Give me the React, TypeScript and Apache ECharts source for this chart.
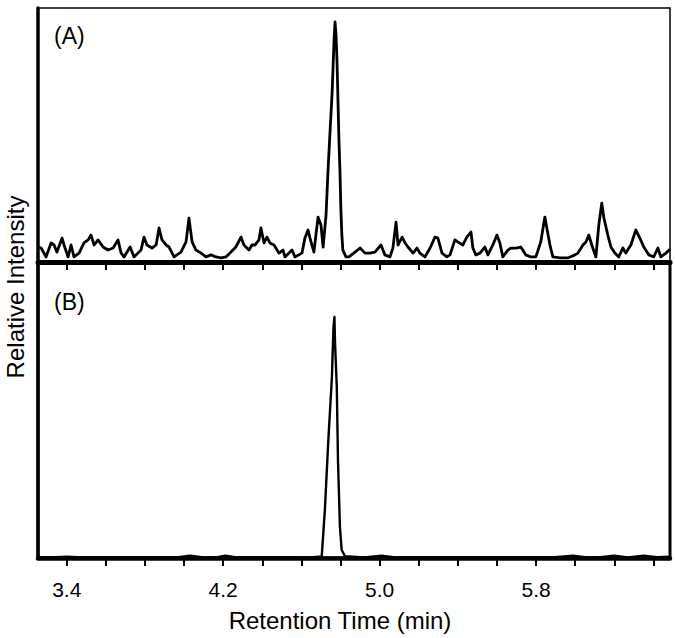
import React, { useEffect, useRef } from "react";
import * as echarts from "echarts";

// Panel (A): retention time (min) and relative intensity (%)
const timesA = [
  3.253, 3.269, 3.294, 3.32, 3.335, 3.35, 3.376, 3.386, 3.407, 3.422, 3.437, 3.463, 3.488, 3.509, 3.524,
  3.54, 3.56, 3.586, 3.611, 3.637, 3.662, 3.678, 3.693, 3.724, 3.744, 3.78, 3.795, 3.81, 3.836, 3.857,
  3.872, 3.887, 3.908, 3.923, 3.949, 3.984, 4.01, 4.025, 4.041, 4.061, 4.087, 4.112, 4.138, 4.163, 4.189,
  4.214, 4.24, 4.265, 4.291, 4.306, 4.332, 4.347, 4.363, 4.383, 4.393, 4.409, 4.424, 4.439, 4.46, 4.485,
  4.506, 4.516, 4.552, 4.567, 4.603, 4.618, 4.634, 4.644, 4.664, 4.685, 4.7, 4.711, 4.726, 4.737, 4.747,
  4.757, 4.762, 4.767, 4.772, 4.777, 4.782, 4.787, 4.792, 4.797, 4.802, 4.807, 4.812, 4.828, 4.843, 4.874,
  4.9, 4.925, 4.951, 4.976, 5.007, 5.027, 5.053, 5.068, 5.084, 5.094, 5.115, 5.13, 5.145, 5.171, 5.191,
  5.206, 5.232, 5.258, 5.283, 5.298, 5.319, 5.344, 5.36, 5.385, 5.4, 5.426, 5.446, 5.467, 5.477, 5.492,
  5.513, 5.538, 5.554, 5.579, 5.6, 5.615, 5.63, 5.656, 5.671, 5.697, 5.722, 5.748, 5.773, 5.799, 5.824,
  5.845, 5.871, 5.886, 5.922, 5.963, 5.999, 6.014, 6.04, 6.055, 6.07, 6.085, 6.106, 6.121, 6.136, 6.147,
  6.167, 6.183, 6.203, 6.223, 6.244, 6.259, 6.285, 6.31, 6.331, 6.351, 6.377, 6.402, 6.423, 6.438, 6.464,
  6.485,
];
const intensityA = [
  6.0, 5.5, 2.0, 7.5, 6.7, 3.9, 9.4, 6.7, 2.0, 6.7, 2.0, 3.5, 7.5, 8.7, 10.6,
  6.7, 8.7, 5.9, 4.7, 5.5, 8.7, 3.5, 2.0, 5.9, 2.0, 4.7, 9.8, 6.7, 5.5, 6.7,
  13.4, 8.7, 6.7, 5.9, 2.0, 3.9, 7.9, 17.3, 7.9, 4.7, 3.5, 2.0, 2.8, 2.0, 1.6,
  2.0, 3.9, 5.9, 9.8, 6.7, 4.7, 6.7, 6.7, 8.7, 13.4, 7.5, 9.8, 7.5, 6.7, 3.5,
  4.7, 2.0, 4.7, 2.0, 3.5, 9.4, 12.6, 9.4, 3.9, 17.7, 14.6, 5.9, 18.5, 37.4, 52.0,
  66.5, 76.8, 87.4, 94.5, 89.4, 79.5, 63.8, 48.0, 36.2, 20.5, 10.6, 4.7, 2.0, 2.0, 3.9,
  5.5, 3.5, 3.5, 3.9, 6.7, 2.8, 2.0, 5.5, 15.7, 6.7, 9.8, 7.5, 5.9, 3.5, 5.5,
  3.5, 2.0, 5.5, 9.8, 9.4, 3.5, 2.0, 2.8, 8.7, 7.9, 6.7, 9.8, 11.8, 5.5, 2.8,
  3.5, 5.9, 2.8, 6.7, 10.6, 7.5, 2.0, 4.7, 5.5, 5.5, 5.9, 2.8, 2.0, 2.0, 7.9,
  17.7, 6.7, 2.0, 1.6, 1.6, 2.8, 3.5, 6.7, 7.9, 10.6, 6.7, 2.0, 14.6, 23.2, 17.3,
  10.6, 5.9, 3.5, 2.0, 5.5, 3.5, 6.7, 12.6, 9.4, 5.9, 2.8, 2.0, 5.5, 2.0, 3.5,
  5.0,
];

// Panel (B): retention time (min) and relative intensity (%)
const timesB = [
  3.253, 3.32, 3.4, 3.48, 3.56, 3.64, 3.72, 3.8, 3.88, 3.96, 4.03, 4.1, 4.17, 4.21, 4.27,
  4.35, 4.43, 4.51, 4.59, 4.66, 4.704, 4.72, 4.737, 4.756, 4.764, 4.769, 4.772, 4.781, 4.787, 4.797,
  4.806, 4.823, 4.92, 5.01, 5.08, 5.16, 5.24, 5.32, 5.4, 5.48, 5.56, 5.64, 5.72, 5.8, 5.88,
  5.99, 6.06, 6.13, 6.2, 6.27, 6.35, 6.42, 6.485,
];
const intensityB = [
  0.3, 0.2, 0.4, 0.2, 0.3, 0.2, 0.3, 0.2, 0.3, 0.2, 0.8, 0.2, 0.3, 0.8, 0.2,
  0.3, 0.2, 0.3, 0.2, 0.3, 0.5, 16.2, 38.9, 61.1, 78.0, 81.4, 72.6, 57.8, 33.1, 10.5,
  2.7, 0.6, 0.2, 0.8, 0.2, 0.3, 0.2, 0.3, 0.2, 0.3, 0.2, 0.3, 0.2, 0.3, 0.2,
  0.8, 0.2, 0.3, 0.8, 0.2, 0.8, 0.3, 0.4,
];

const tickValues = [3.4, 3.6, 3.8, 4.0, 4.2, 4.4, 4.6, 4.8, 5.0, 5.2, 5.4, 5.6, 5.8, 6.0, 6.2, 6.4];
const labelValues = [3.4, 4.2, 5.0, 5.8];
const panelLabels = ["(A)", "(B)"];
const xTitle = "Retention Time (min)";
const yTitle = "Relative Intensity";

const FONT = "'Liberation Sans', Arial, Helvetica, sans-serif";

export default function App() {
  const ref = useRef<HTMLDivElement>(null);

  useEffect(() => {
    document.body.style.margin = "0";
    if (!ref.current) return;
    const chart = echarts.init(ref.current, null, { renderer: "svg" });

    const xBase = (gridIndex: number, withLabels: boolean) => ({
      type: "value",
      gridIndex,
      min: 3.253,
      max: 6.485,
      axisLine: { show: true, onZero: false, lineStyle: { color: "#000", width: gridIndex === 0 ? 5 : 4.5 } },
      axisTick: {
        show: true,
        customValues: tickValues,
        length: 8,
        inside: false,
        lineStyle: { color: "#000", width: 2 },
      },
      axisLabel: withLabels
        ? {
            show: true,
            customValues: labelValues,
            formatter: (v: number) => v.toFixed(1),
            fontSize: 21,
            color: "#000",
            fontFamily: FONT,
            margin: 21,
          }
        : { show: false },
      splitLine: { show: false },
    });

    const yBase = (gridIndex: number) => ({
      type: "value",
      gridIndex,
      min: 0,
      max: 100,
      axisLine: { show: true, onZero: false, lineStyle: { color: "#000", width: 3.5 } },
      axisTick: { show: false },
      axisLabel: { show: false },
      splitLine: { show: false },
    });

    chart.setOption({
      animation: false,
      backgroundColor: "#fff",
      grid: [
        { left: 38, top: 8, width: 632, height: 254, show: true, borderColor: "#000", borderWidth: 1.5 },
        { left: 38, top: 262, width: 632, height: 296, show: true, borderColor: "#000", borderWidth: 3 },
      ],
      xAxis: [xBase(0, false), xBase(1, true)],
      yAxis: [yBase(0), yBase(1)],
      series: [
        {
          type: "line",
          xAxisIndex: 0,
          yAxisIndex: 0,
          data: timesA.map((t, i) => [t, intensityA[i]]),
          showSymbol: false,
          lineStyle: { color: "#000", width: 2.8, join: "round" },
          z: 3,
        },
        {
          type: "line",
          xAxisIndex: 1,
          yAxisIndex: 1,
          data: timesB.map((t, i) => [t, intensityB[i]]),
          showSymbol: false,
          lineStyle: { color: "#000", width: 2.4, join: "round" },
          z: 3,
        },
      ],
      graphic: [
        {
          type: "text",
          x: 54,
          y: 36,
          style: { text: panelLabels[0], fontSize: 23, fill: "#000", fontFamily: FONT, textVerticalAlign: "middle" },
        },
        {
          type: "text",
          x: 54,
          y: 302,
          style: { text: panelLabels[1], fontSize: 23, fill: "#000", fontFamily: FONT, textVerticalAlign: "middle" },
        },
        {
          type: "text",
          x: 15,
          y: 287,
          rotation: Math.PI / 2,
          style: {
            text: yTitle,
            fontSize: 24,
            fill: "#000",
            fontFamily: FONT,
            textAlign: "center",
            textVerticalAlign: "middle",
          },
        },
        {
          type: "text",
          x: 340,
          y: 620,
          style: {
            text: xTitle,
            fontSize: 24,
            fill: "#000",
            fontFamily: FONT,
            textAlign: "center",
            textVerticalAlign: "middle",
          },
        },
      ],
    });

    return () => chart.dispose();
  }, []);

  return <div ref={ref} style={{ width: 675, height: 638 }} />;
}
